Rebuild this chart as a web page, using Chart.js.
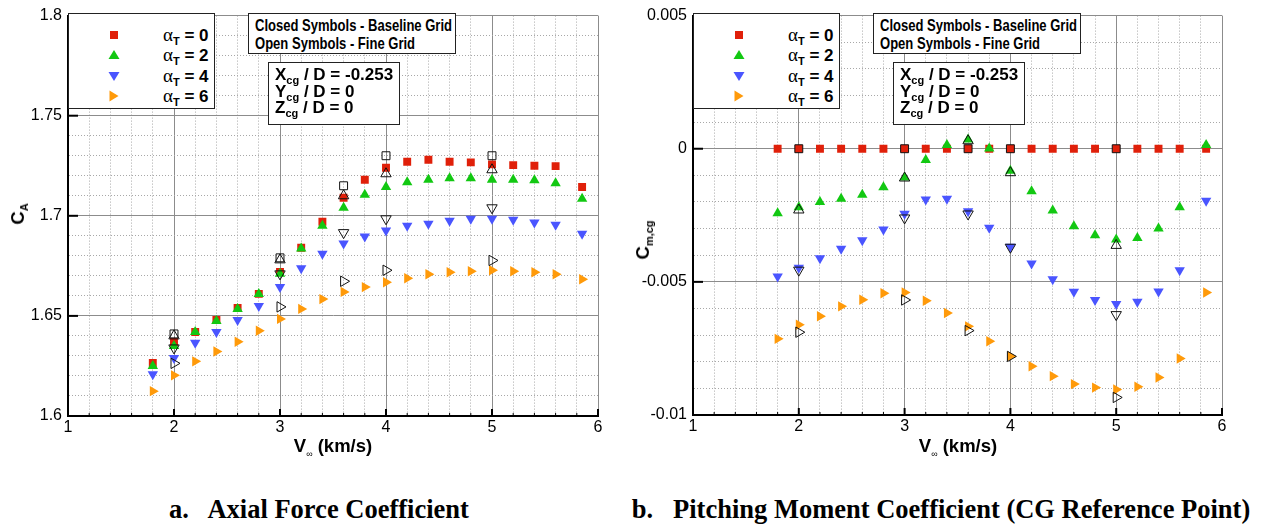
<!DOCTYPE html>
<html>
<head>
<meta charset="utf-8">
<script src="https://cdn.jsdelivr.net/npm/chart.js@4.4.1/dist/chart.umd.min.js"></script>
<style>
  body { margin:0; background:#fff; width:1261px; height:525px; position:relative; overflow:hidden;
         font-family:"Liberation Sans", Arial, sans-serif; }
  canvas { position:absolute; top:0; }
  .box { position:absolute; background:#fff; border:1px solid #222; box-sizing:border-box; }
  .row { position:absolute; left:0; width:100%; height:20px; }
  .row svg { position:absolute; left:38px; top:3px; }
  .row .lab { position:absolute; left:94px; top:0; font-weight:bold; font-size:17px; line-height:20px; white-space:nowrap; }
  .alpha { font-family:"Liberation Serif", serif; font-weight:normal; font-size:19px; }
  .sb { font-size:11px; position:relative; top:4px; line-height:0; }
  .txt { position:absolute; font-weight:bold; white-space:nowrap; }
  .grid1 { font-size:16.5px; line-height:18px; left:6px; top:2px; transform:scaleX(0.79); transform-origin:0 0; }
  .cg { font-size:17px; line-height:16.5px; left:6px; top:4px; }
  .title { position:absolute; font-weight:bold; font-size:18.5px; white-space:nowrap; transform:translate(-50%,-50%); }
  .rot { transform:translate(-50%,-50%) rotate(-90deg); }
  .inf { font-size:9px; font-weight:normal; position:relative; top:5px; line-height:0; }
  .cap { position:absolute; top:494px; font-family:"Liberation Serif", serif; font-weight:bold; font-size:26.5px;
         white-space:pre; transform:translateX(-50%); }
</style>
</head>
<body>
<canvas id="axial" width="620" height="470" style="left:0;width:620px;height:470px"></canvas>
<canvas id="pitch" width="620" height="470" style="left:625px;width:620px;height:470px"></canvas>

<div id="overlays"></div>

<div class="title rot" style="left:18px;top:214px">C<span class="sb">A</span></div>
<div class="title rot" style="left:643px;top:240px">C<span class="sb">m,cg</span></div>
<div class="title" style="left:333px;top:446px">V<span class="inf">∞</span> (km/s)</div>
<div class="title" style="left:958px;top:446px">V<span class="inf">∞</span> (km/s)</div>

<div class="cap" style="left:319px">a.   Axial Force Coefficient</div>
<div class="cap" style="left:941px">b.   Pitching Moment Coefficient (CG Reference Point)</div>

<script>
// free-stream velocity, km/s
const speeds = [1.8, 2.0, 2.2, 2.4, 2.6, 2.8, 3.0, 3.2, 3.4, 3.6, 3.8, 4.0, 4.2, 4.4, 4.6, 4.8, 5.0, 5.2, 5.4, 5.6, 5.85];
const fineSpeeds = [2.0, 3.0, 3.6, 4.0, 5.0];
const alphaLabels = ['0', '2', '4', '6'];

// axial force coefficient, baseline grid
const ca0 = [1.6265, 1.637, 1.642, 1.648, 1.654, 1.661, 1.672, 1.684, 1.697, 1.709, 1.718, 1.724, 1.727, 1.728, 1.727, 1.7267, 1.7257, 1.7253, 1.725, 1.7248, 1.7144];
const ca2 = [1.625, 1.635, 1.642, 1.6475, 1.6535, 1.661, 1.671, 1.6837, 1.695, 1.704, 1.7105, 1.7144, 1.7168, 1.718, 1.7188, 1.7188, 1.718, 1.718, 1.7178, 1.7163, 1.7085];
const ca4 = [1.6208, 1.629, 1.6366, 1.642, 1.648, 1.655, 1.6644, 1.6738, 1.681, 1.6862, 1.6896, 1.6926, 1.695, 1.696, 1.6975, 1.6985, 1.6985, 1.698, 1.6966, 1.6955, 1.691];
const ca6 = [1.6124, 1.6203, 1.6273, 1.6322, 1.6371, 1.6426, 1.6485, 1.6535, 1.6584, 1.662, 1.6644, 1.6668, 1.6688, 1.6708, 1.6718, 1.6723, 1.6728, 1.6723, 1.6718, 1.6708, 1.6683];
// fine grid
const caFine0 = [1.641, 1.679, 1.715, 1.730, 1.730];
const caFine2 = [1.640, 1.678, 1.710, 1.721, 1.723];
const caFine4 = [1.634, 1.671, 1.6916, 1.6985, 1.704];
const caFine6 = [1.6263, 1.6545, 1.6673, 1.6728, 1.6777];

// pitching moment about cg, baseline grid
const cm0 = [0, 0, 0, 0, 0, 0, 0, 0, 0, 0, 0, 0, 0, 0, 0, 0, 0, 0, 0, 0, 0];
const cm2 = [-0.00242, -0.0022, -0.0020, -0.00188, -0.00173, -0.00145, -0.00108, -0.00042, 0.00014, 0.00035, 0.00001, -0.00083, -0.0016, -0.00232, -0.00291, -0.00325, -0.00341, -0.00335, -0.0030, -0.0022, 0.00014];
const cm4 = [-0.0048, -0.00447, -0.00411, -0.00376, -0.00344, -0.00303, -0.00244, -0.00191, -0.00188, -0.00235, -0.00297, -0.00368, -0.00431, -0.0049, -0.00537, -0.00568, -0.00583, -0.00575, -0.00536, -0.00456, -0.00195];
const cm6 = [-0.00714, -0.00661, -0.00629, -0.00592, -0.00567, -0.00543, -0.0054, -0.00571, -0.00617, -0.00667, -0.00723, -0.00779, -0.00817, -0.00854, -0.00884, -0.00897, -0.00904, -0.00894, -0.00859, -0.00788, -0.0054];
// fine grid
const cmFine0 = [0, 0, 0, 0, 0];
const cmFine2 = [-0.0023, -0.0011, 0.0003, -0.0009, -0.00363];
const cmFine4 = [-0.00456, -0.0026, -0.00245, -0.0037, -0.00623];
const cmFine6 = [-0.00689, -0.00568, -0.00683, -0.0078, -0.00934];

const colors = ['#e0200a', '#12c812', '#4a55ff', '#ff9a0a'];
const shapes = [
  {style: 'rect', rot: 0, r: 5.6},
  {style: 'triangle', rot: 0, r: 6},
  {style: 'triangle', rot: 180, r: 6},
  {style: 'triangle', rot: 90, r: 6},
];

function pts(xs, ys) {
  return xs.map((x, i) => ({x: x, y: ys[i]}));
}

function near(v, step) {
  return Math.abs(v / step - Math.round(v / step)) < 1e-6;
}

// tecplot style ticks pointing into the plot
const innerTicks = {
  id: 'innerTicks',
  afterDatasetsDraw(chart) {
    const {ctx, chartArea: a, scales: {x, y}} = chart;
    const yMajor = chart.options.scales.y.majorStep;
    ctx.save();
    ctx.strokeStyle = '#000';
    x.ticks.forEach(t => {
      const px = x.getPixelForValue(t.value);
      const major = near(t.value, 1);
      ctx.lineWidth = major ? 2 : 1;
      ctx.beginPath();
      ctx.moveTo(px, a.bottom);
      ctx.lineTo(px, a.bottom - (major ? 7 : 3));
      ctx.stroke();
    });
    y.ticks.forEach(t => {
      if (!near(t.value, yMajor)) return;
      const py = y.getPixelForValue(t.value);
      ctx.lineWidth = 2;
      ctx.beginPath();
      ctx.moveTo(a.left, py);
      ctx.lineTo(a.left + 10, py);
      ctx.stroke();
    });
    ctx.restore();
  }
};

function makeChart(id, base, fine, yMin, yMax, yStep, yMajor, fmt, padRight, padBottom) {
  const datasets = [];
  base.forEach((vals, i) => {
    datasets.push({
      data: pts(speeds, vals),
      pointStyle: shapes[i].style,
      rotation: shapes[i].rot,
      pointRadius: shapes[i].r,
      backgroundColor: colors[i],
      borderColor: colors[i],
      borderWidth: 0,
      order: 8 - i,
    });
  });
  fine.forEach((vals, i) => {
    datasets.push({
      data: pts(fineSpeeds, vals),
      pointStyle: shapes[i].style,
      rotation: shapes[i].rot,
      pointRadius: shapes[i].r,
      backgroundColor: 'rgba(0,0,0,0)',
      borderColor: '#111',
      borderWidth: 1,
      order: 4 - i,
    });
  });

  return new Chart(document.getElementById(id), {
    type: 'scatter',
    data: {datasets: datasets},
    plugins: [innerTicks],
    options: {
      responsive: false,
      animation: false,
      events: [],
      layout: {padding: {left: 0, right: padRight, top: 13, bottom: padBottom}},
      plugins: {legend: {display: false}, tooltip: {enabled: false}},
      scales: {
        x: {
          type: 'linear', min: 1, max: 6,
          afterFit: s => { s.height = 40; },
          ticks: {
            stepSize: 0.2, autoSkip: false, maxRotation: 0, padding: 2,
            color: '#000', font: {family: 'Liberation Sans', size: 16},
            callback: v => near(v, 1) ? String(Math.round(v)) : ''
          },
          grid: {
            drawTicks: false,
            color: c => near(c.tick.value, 1) ? '#8c8c8c' : '#a8a8a8',
            lineWidth: 1
          },
          border: {
            color: '#000', width: 2,
            dash: c => (c.tick && !near(c.tick.value, 1)) ? [1, 2] : []
          }
        },
        y: {
          type: 'linear', min: yMin, max: yMax, majorStep: yMajor,
          afterFit: s => { s.width = 68; },
          ticks: {
            stepSize: yStep, autoSkip: false, padding: 6,
            color: '#000', font: {family: 'Liberation Sans', size: 16},
            callback: v => near(v, yMajor) ? fmt(v) : ''
          },
          grid: {
            drawTicks: false,
            color: c => near(c.tick.value, yMajor) ? '#8c8c8c' : '#a8a8a8',
            lineWidth: 1
          },
          border: {
            color: '#000', width: 2,
            dash: c => (c.tick && !near(c.tick.value, yMajor)) ? [1, 2] : []
          }
        }
      }
    }
  });
}

makeChart('axial', [ca0, ca2, ca4, ca6], [caFine0, caFine2, caFine4, caFine6],
  1.6, 1.8, 0.01, 0.05, v => String(Number(v.toFixed(2))), 22, 14);
makeChart('pitch', [cm0, cm2, cm4, cm6], [cmFine0, cmFine2, cmFine4, cmFine6],
  -0.01, 0.005, 0.001, 0.005, v => String(Number(v.toFixed(3))), 23, 15);

// legend and note boxes drawn as html on top of each plot
function markerSvg(i) {
  const c = colors[i];
  let shape;
  if (i === 0) shape = '<rect x="3" y="3" width="8" height="8" fill="' + c + '"/>';
  else if (i === 1) shape = '<polygon points="7,2 12.5,11 1.5,11" fill="' + c + '"/>';
  else if (i === 2) shape = '<polygon points="1.5,3 12.5,3 7,12" fill="' + c + '"/>';
  else shape = '<polygon points="2.5,1.5 11.5,7 2.5,12.5" fill="' + c + '"/>';
  return '<svg width="14" height="14">' + shape + '</svg>';
}

const plotLefts = [68, 693];
const overlays = document.getElementById('overlays');
plotLefts.forEach(left => {
  let rows = '';
  const rowTops = [11, 31, 52, 72];
  alphaLabels.forEach((a, i) => {
    rows += '<div class="row" style="top:' + rowTops[i] + 'px">' + markerSvg(i) +
      '<span class="lab"><span class="alpha">α</span><span class="sb">T</span> = ' + a + '</span></div>';
  });
  overlays.insertAdjacentHTML('beforeend',
    '<div class="box" style="left:' + left + 'px;top:13px;width:147px;height:96px">' + rows + '</div>' +
    '<div class="box" style="left:' + (left + 180) + 'px;top:13px;width:208px;height:41px">' +
      '<div class="txt grid1">Closed Symbols - Baseline Grid<br>Open Symbols - Fine Grid</div></div>' +
    '<div class="box" style="left:' + (left + 200) + 'px;top:62px;width:132px;height:63px">' +
      '<div class="txt cg">X<span class="sb">cg</span> / D = -0.253<br>Y<span class="sb">cg</span> / D = 0<br>Z<span class="sb">cg</span> / D = 0</div></div>'
  );
});
</script>
</body>
</html>
